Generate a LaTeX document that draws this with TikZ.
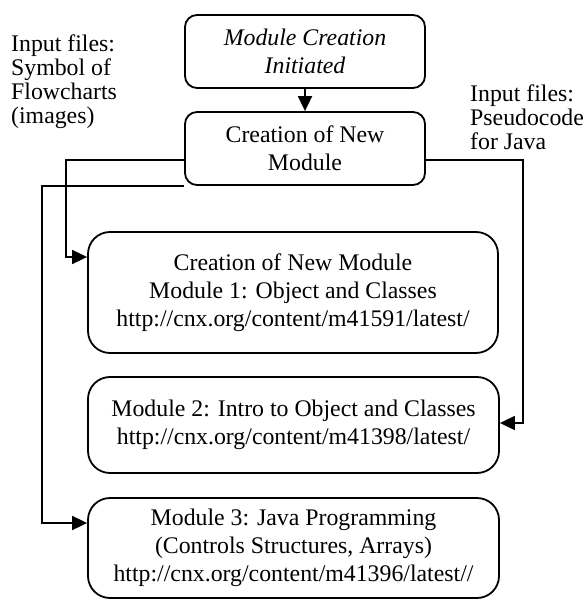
\documentclass[tikz,border=0pt]{standalone}
\usepackage{fontspec}
\setmainfont{Liberation Serif}
\usetikzlibrary{arrows.meta,positioning}
\begin{document}
\begin{tikzpicture}[x=1pt,y=-1pt,
  every node/.style={font=\fontsize{23.8}{28}\selectfont},
  box/.style={draw,line width=1.8pt,rounded corners=#1,align=center,inner sep=0pt},
  box/.default=12pt,
  lbl/.style={align=left,inner sep=0pt,font=\fontsize{23.8}{24}\selectfont},
  conn/.style={line width=1.8pt},
  arr/.style={conn,-{Triangle[length=15pt,width=14pt]}}]
\useasboundingbox (0,0) rectangle (584,601);
\node[box,minimum width=240pt,minimum height=73pt] (top) at (305,51.5)
  {\itshape Module Creation\\\itshape Initiated};
\node[box,minimum width=240pt,minimum height=73pt] (new) at (305,148.5)
  {Creation of New\\Module};
\node[box=22pt,minimum width=410pt,minimum height=121pt] (m1) at (293,292.5)
  {Creation of New Module\\Module 1: Object and Classes\\http://cnx.org/content/m41591/latest/};
\node[box=22pt,minimum width=411pt,minimum height=96pt] (m2) at (293.5,425)
  {Module 2: Intro to Object and Classes\\http://cnx.org/content/m41398/latest/};
\node[box=22pt,minimum width=411pt,minimum height=100pt] (m3) at (293.5,548)
  {Module 3: Java Programming\\(Controls Structures, Arrays)\\http://cnx.org/content/m41396/latest//};
\node[lbl,anchor=west] (inl) at (11,82) {Input files:\\Symbol of\\Flowcharts\\(images)};
\node[lbl,anchor=west] (inr) at (470,117) {Input files:\\Pseudocode\\for Java};
\coordinate (aL) at (66,257);
\coordinate (aO) at (42,523);
\coordinate (aR) at (523,423);
\draw[arr] (top) -- (new);
\draw[arr] (new.west |- 0,160) -| (aL) -- (m1.west |- aL);
\draw[arr] (new.south west) -| (aO) -- (m3.west |- aO);
\draw[arr] (new.east |- 0,160) -| (aR) -- (m2.east |- aR);
\end{tikzpicture}
\end{document}
